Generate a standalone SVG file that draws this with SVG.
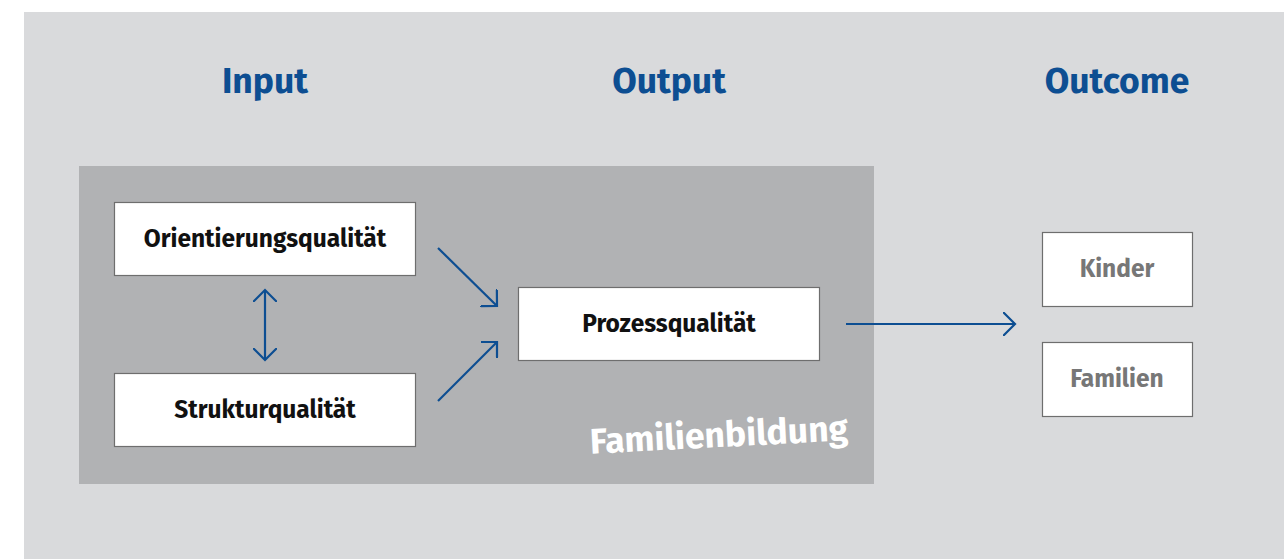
<svg xmlns="http://www.w3.org/2000/svg" width="1284" height="559" viewBox="0 0 1284 559">
<defs>
<style>
.title{font-family:"Fira Sans","Open Sans","Noto Sans",sans-serif;font-weight:700;font-size:35.5px;fill:#0d4e92;text-anchor:middle}
.box{fill:#ffffff;stroke:#6e6e6e;stroke-width:1.2}
.lbl{font-family:"Fira Sans","Open Sans","Noto Sans",sans-serif;font-weight:700;font-size:24.5px;fill:#111;text-anchor:middle}
.out{fill:#777777}
.conn{fill:none;stroke:#0d4e92;stroke-width:2.2}
</style>
<marker id="chev" viewBox="-12 -12 14 24" markerWidth="14" markerHeight="24" refX="0" refY="0" orient="auto" markerUnits="userSpaceOnUse">
<path d="M-14.5,-14.5 L0,0 L-14.5,14.5" fill="none" stroke="#0d4e92" stroke-width="2.2"/>
</marker>
</defs>
<rect x="24" y="12" width="1260" height="547" fill="#d9dadc"/>
<rect x="79" y="166" width="795" height="318" fill="#b1b2b4"/>
<text class="title" x="265" y="93">Input</text>
<text class="title" x="669" y="93">Output</text>
<text class="title" x="1117" y="93">Outcome</text>
<text x="719" y="447" transform="rotate(-3 719 436)" font-family="Fira Sans,Open Sans,Noto Sans,sans-serif" font-weight="700" font-size="35.5" fill="#ffffff" text-anchor="middle">Familienbildung</text>
<g id="connectors">
<line class="conn" x1="438" y1="248" x2="497" y2="306" marker-end="url(#chev)"/>
<line class="conn" x1="438" y1="401" x2="497" y2="342" marker-end="url(#chev)"/>
<line class="conn" x1="846" y1="324" x2="1015" y2="324" marker-end="url(#chev)"/>
<line class="conn" x1="265" y1="325" x2="265" y2="290" marker-end="url(#chev)"/>
<line class="conn" x1="265" y1="325" x2="265" y2="360" marker-end="url(#chev)"/>
</g>
<g id="orientierung">
<rect class="box" x="114.5" y="202.5" width="301" height="73"/>
<text class="lbl" x="265" y="247">Orientierungsqualität</text>
</g>
<g id="struktur">
<rect class="box" x="114.5" y="373.5" width="301" height="73"/>
<text class="lbl" x="265" y="418">Strukturqualität</text>
</g>
<g id="prozess">
<rect class="box" x="518.5" y="287.5" width="301" height="73"/>
<text class="lbl" x="669" y="332">Prozessqualität</text>
</g>
<g id="kinder">
<rect class="box" x="1042.5" y="232.5" width="150" height="74"/>
<text class="lbl out" x="1117" y="277">Kinder</text>
</g>
<g id="familien">
<rect class="box" x="1042.5" y="342.5" width="150" height="74"/>
<text class="lbl out" x="1117" y="387">Familien</text>
</g>
</svg>
